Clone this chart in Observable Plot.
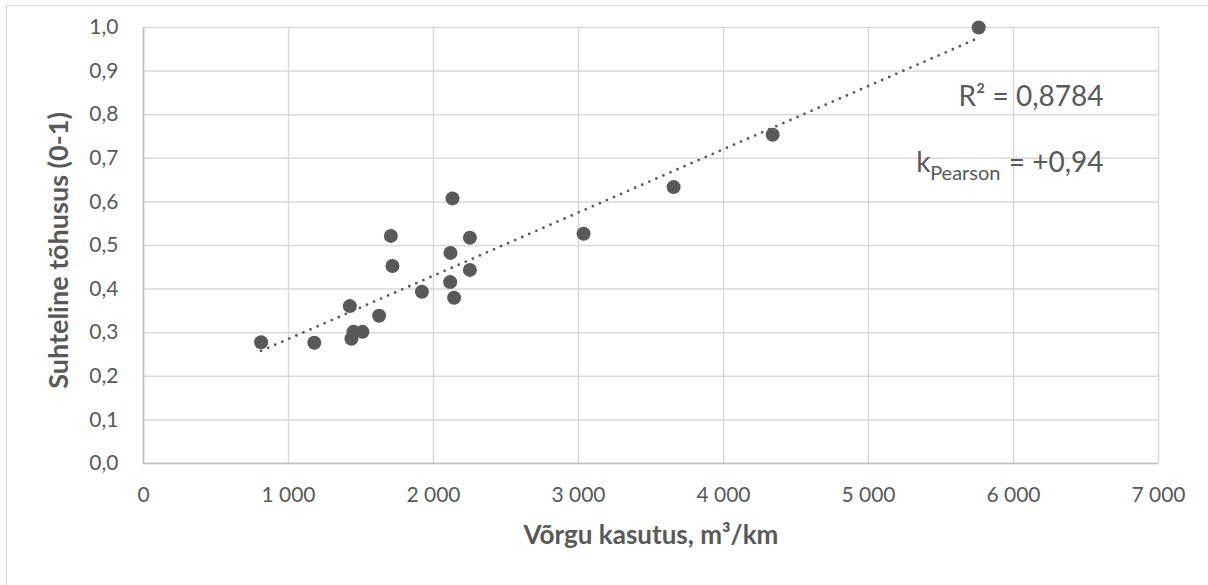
<!DOCTYPE html>
<html>
<head>
<meta charset="utf-8">
<script src="https://cdn.jsdelivr.net/npm/d3@7"></script>
<script src="https://cdn.jsdelivr.net/npm/@observablehq/plot@0.6"></script>
<style>
  html, body { margin: 0; padding: 0; background: #fff; }
  #wrap { position: relative; width: 1208px; height: 585px; overflow: hidden; }
  #frame { position: absolute; left: 6px; top: 5px; width: 1400px; height: 800px;
           border-top: 1.5px solid #d9d9d9; border-left: 1.5px solid #d9d9d9; }
  #chart { position: absolute; left: 0; top: 0; }
</style>
</head>
<body>
<div id="wrap"><div id="frame"></div><div id="chart"></div></div>
<script>
// Network utilisation (m³/km)
const usage = [811, 1178, 1423, 1434, 1448, 1510, 1625, 1706, 1717, 1920,
               2131, 2117, 2115, 2142, 2251, 2251, 3035, 3656, 4339, 5760];
// Relative efficiency (0-1)
const efficiency = [0.278, 0.277, 0.361, 0.286, 0.302, 0.302, 0.339, 0.522, 0.453, 0.394,
                    0.608, 0.483, 0.416, 0.380, 0.518, 0.444, 0.527, 0.634, 0.754, 1.0];
const xTicks = [0, 1000, 2000, 3000, 4000, 5000, 6000, 7000];
const yTicks = [0, 0.1, 0.2, 0.3, 0.4, 0.5, 0.6, 0.7, 0.8, 0.9, 1.0];
const xTitle = "Võrgu kasutus, m³/km";
const yTitle = "Suhteline tõhusus (0-1)";
const r2Label = "R² = 0,8784";
const kLabel = "k";
const kSub = "Pearson";
const kValue = "= +0,94";

const data = usage.map((u, i) => ({x: u, y: efficiency[i]}));
const ink = "#595959";
const grid = "#d9d9d9";
const font = "Lato, 'Open Sans', sans-serif";

const fmtX = d => d === 0 ? "0" : d3.format(",")(d).replace(/,/g, " ");
const fmtY = d => d.toFixed(1).replace(".", ",");

const chart = Plot.plot({
  width: 1208,
  height: 585,
  marginLeft: 143,
  marginRight: 50,
  marginTop: 27,
  marginBottom: 122,
  style: {fontFamily: font, color: ink, background: "transparent", overflow: "visible"},
  x: {domain: [0, 7000]},
  y: {domain: [0, 1]},
  marks: [
    Plot.gridX(xTicks, {stroke: grid, strokeOpacity: 1, strokeWidth: 1.5}),
    Plot.gridY(yTicks, {stroke: grid, strokeOpacity: 1, strokeWidth: 1.5}),
    Plot.ruleX([0], {stroke: "#bfbfbf", strokeWidth: 1.5}),
    Plot.ruleY([0], {stroke: "#bfbfbf", strokeWidth: 1.5}),
    Plot.axisX(xTicks, {tickSize: 0, tickPadding: 24, tickFormat: fmtX, fontSize: 21, fill: ink, label: null}),
    Plot.axisY(yTicks, {tickSize: 0, tickPadding: 25, tickFormat: fmtY, fontSize: 21, fill: ink, label: null}),
    Plot.linearRegressionY(data, {x: "x", y: "y", ci: 0, stroke: ink, strokeWidth: 2.8,
      strokeDasharray: "0,7.7", strokeLinecap: "round"}),
    Plot.dot(data, {x: "x", y: "y", r: 7, fill: ink, stroke: "none"}),
    Plot.text([xTitle], {frameAnchor: "bottom", dy: 72, textAnchor: "middle", lineAnchor: "middle",
      fontWeight: "bold", fontSize: 26, fill: ink}),
    Plot.text([yTitle], {frameAnchor: "left", dx: -84, dy: 5, rotate: -90, textAnchor: "middle",
      lineAnchor: "middle", fontWeight: "bold", fontSize: 27, fill: ink}),
    Plot.text([r2Label], {frameAnchor: "top-right", dx: -55, dy: 70, textAnchor: "end",
      lineAnchor: "middle", fontSize: 28, fill: ink}),
    Plot.text([kValue], {frameAnchor: "top-right", dx: -55, dy: 136, textAnchor: "end",
      lineAnchor: "middle", fontSize: 28, fill: ink}),
    Plot.text([kSub], {frameAnchor: "top-right", dx: -158, dy: 146, textAnchor: "end",
      lineAnchor: "middle", fontSize: 20, fill: ink}),
    Plot.text([kLabel], {frameAnchor: "top-right", dx: -228, dy: 136, textAnchor: "end",
      lineAnchor: "middle", fontSize: 28, fill: ink})
  ]
});
document.getElementById("chart").appendChild(chart);
</script>
</body>
</html>
